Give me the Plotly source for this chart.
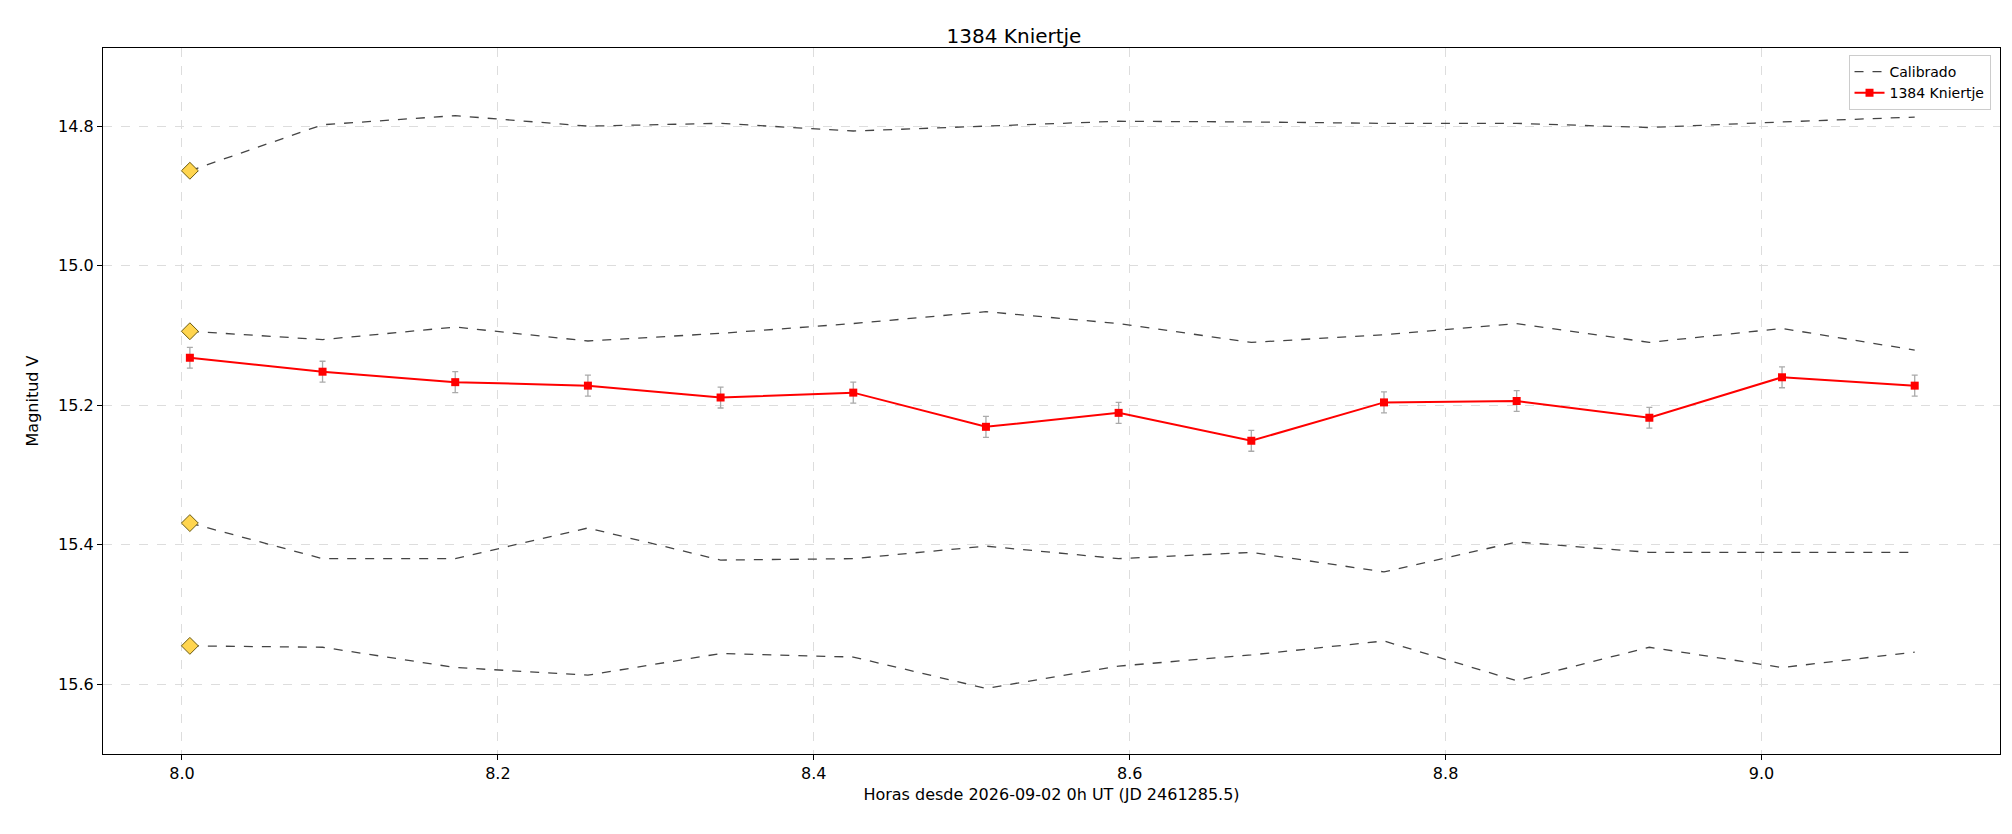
import plotly.graph_objects as go

hours = [8.005, 8.089, 8.173, 8.257, 8.341, 8.425, 8.509, 8.593, 8.677, 8.761, 8.845, 8.929, 9.013, 9.097]
target = [15.132, 15.152, 15.167, 15.172, 15.189, 15.182, 15.231, 15.211, 15.251, 15.196, 15.194, 15.218, 15.160, 15.172]
target_err = [0.015] * 14
comp1 = [14.864, 14.798, 14.785, 14.800, 14.796, 14.807, 14.800, 14.793, 14.794, 14.796, 14.796, 14.802, 14.794, 14.787]
comp2 = [15.094, 15.106, 15.088, 15.108, 15.097, 15.083, 15.066, 15.083, 15.110, 15.099, 15.083, 15.110, 15.090, 15.121]
comp3 = [15.369, 15.420, 15.420, 15.376, 15.422, 15.420, 15.402, 15.420, 15.411, 15.439, 15.396, 15.411, 15.411, 15.411]
comp4 = [15.545, 15.547, 15.576, 15.587, 15.556, 15.561, 15.606, 15.574, 15.558, 15.538, 15.595, 15.547, 15.576, 15.554]

fig = go.Figure()
for i, c in enumerate([comp1, comp2, comp3, comp4]):
    fig.add_trace(go.Scatter(x=hours, y=c, mode="lines", name="Calibrado", showlegend=(i == 0),
                             line=dict(color="#444444", width=1.3, dash="dash")))
for c in [comp1, comp2, comp3, comp4]:
    fig.add_trace(go.Scatter(x=hours[:1], y=c[:1], mode="markers", showlegend=False,
                             marker=dict(symbol="diamond", size=13, color="#FFD54F",
                                         line=dict(color="#6b5a10", width=1))))
fig.add_trace(go.Scatter(x=hours, y=target, mode="lines+markers", name="1384 Kniertje",
                         line=dict(color="red", width=2),
                         marker=dict(symbol="square", size=8, color="red"),
                         error_y=dict(type="data", array=target_err, color="#aaaaaa", thickness=1.3, width=3)))

axis_common = dict(showline=True, mirror=True, linecolor="black", linewidth=1.3,
                   ticks="outside", ticklen=5, tickcolor="black",
                   showgrid=True, gridcolor="#dddddd", griddash="dash", zeroline=False,
                   tickfont=dict(size=16, color="black"))
fig.update_layout(
    width=2012, height=834, plot_bgcolor="white", paper_bgcolor="white",
    font=dict(family="DejaVu Sans", color="black"),
    title=dict(text="1384 Kniertje", x=0.5, xanchor="center", y=0.975, font=dict(size=20)),
    margin=dict(l=95, r=20, t=40, b=88),
    xaxis=dict(range=[7.95, 9.151], tickvals=[8.0, 8.2, 8.4, 8.6, 8.8, 9.0], tickformat=".1f",
               title=dict(text="Horas desde 2026-09-02 0h UT (JD 2461285.5)", font=dict(size=16), standoff=6),
               **axis_common),
    yaxis=dict(range=[15.70, 14.688], tickvals=[14.8, 15.0, 15.2, 15.4, 15.6], tickformat=".1f",
               title=dict(text="Magnitud V", font=dict(size=16)), **axis_common),
    legend=dict(x=0.995, y=0.99, xanchor="right", yanchor="top", bordercolor="#cccccc", borderwidth=1,
                bgcolor="white", font=dict(size=14)),
)
fig.write_html("out.html")
